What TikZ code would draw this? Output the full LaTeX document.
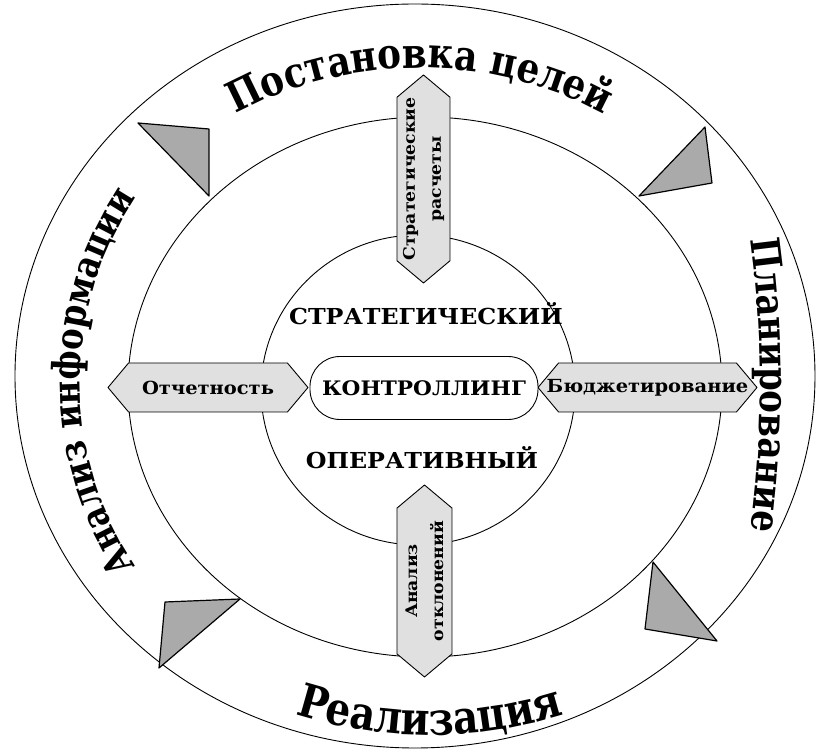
\documentclass[tikz,border=0pt]{standalone}
\usepackage{fontspec}
\setmainfont{DejaVu Serif}
\newfontfamily\ringfamily{DejaVu Serif}[FakeStretch=0.85]
\newfontfamily\widefamily{DejaVu Serif}[FakeStretch=1.08]
\usetikzlibrary{shapes.symbols,decorations.text}

\definecolor{hexgray}{RGB}{224,224,224}
\definecolor{flaggray}{RGB}{170,170,170}

\begin{document}
\begin{tikzpicture}[x=1pt,y=1pt,line cap=round,line join=round,
    ringline/.style={line width=0.9pt},
    hexbox/.style={signal,signal to=east and west,signal pointer angle=100,draw,line width=0.9pt,
        fill=hexgray,inner sep=0pt,minimum height=49pt,font=\widefamily\bfseries\fontsize{18}{26}\selectfont},
    flagtri/.style={draw,line width=1.2pt,fill=flaggray},
    ringtext/.style 2 args={decorate,decoration={text along path,text align=center,
        text={|\ringfamily\bfseries\fontsize{#1}{#1}\selectfont|#2}}},
    layertext/.style={font=\widefamily\bfseries\fontsize{22}{22}\selectfont}]
    \useasboundingbox (-420,-369) rectangle (400,380);

    \draw[ringline] (-5,4) ellipse[x radius=400,y radius=372];
    \draw[ringline] (5,-7) ellipse[x radius=297,y radius=270];
    \draw[ringline] (-2,-10) ellipse[x radius=157,y radius=155];

    \draw[flagtri] (-282,257) -- (-211,251) -- (-211,184) -- cycle;
    \draw[flagtri] (285,253) -- (292,197) -- (219,184) -- cycle;
    \draw[flagtri] (-255,-222) -- (-180,-219) -- (-261,-288) -- cycle;
    \draw[flagtri] (233,-182) -- (225,-249) -- (297,-261) -- cycle;

    \node[hexbox,minimum width=200pt] (report) at (-212,-7.5) {Отчетность};
    \node[hexbox,minimum width=219pt,inner xsep=-12pt] (budget) at (227.5,-7.5) {Бюджетирование};
    \node[hexbox,rotate=90,minimum width=208pt,minimum height=53pt,align=center,
        font=\widefamily\bfseries\fontsize{16}{26}\selectfont] (strat) at (3.5,201) {Стратегические\\расчеты};
    \node[hexbox,rotate=90,minimum width=192pt,minimum height=55pt,align=center,
        font=\widefamily\bfseries\fontsize{16}{26}\selectfont] (deviation) at (4.5,-201) {Анализ\\отклонений};

    \node[draw,line width=0.9pt,rounded corners=30pt,minimum width=228pt,minimum height=63pt,
        fill=white,layertext,font=\widefamily\bfseries\fontsize{20}{20}\selectfont] (core) at (4,-8) {КОНТРОЛЛИНГ};
    \node[layertext] (strategic) at (6,66) {СТРАТЕГИЧЕСКИЙ};
    \node[layertext] (operative) at (2,-78) {ОПЕРАТИВНЫЙ};

    \path[ringtext={42}{Постановка целей}] (0,4) ++(150:350 and 308)
        arc[start angle=150,end angle=30,x radius=350,y radius=308];
    \path[ringtext={40}{Планирование}] (326,170) .. controls (345,60) and (345,-70) .. (326,-180);
    \path[ringtext={46}{Реализация}] (10,4) ++(235:400 and 359)
        arc[start angle=235,end angle=305,x radius=400,y radius=359];
    \path[ringtext={38}{Анализ информации}] (-5,-2) ++(235:335 and 334)
        arc[start angle=235,end angle=125,x radius=335,y radius=334];
\end{tikzpicture}
\end{document}
